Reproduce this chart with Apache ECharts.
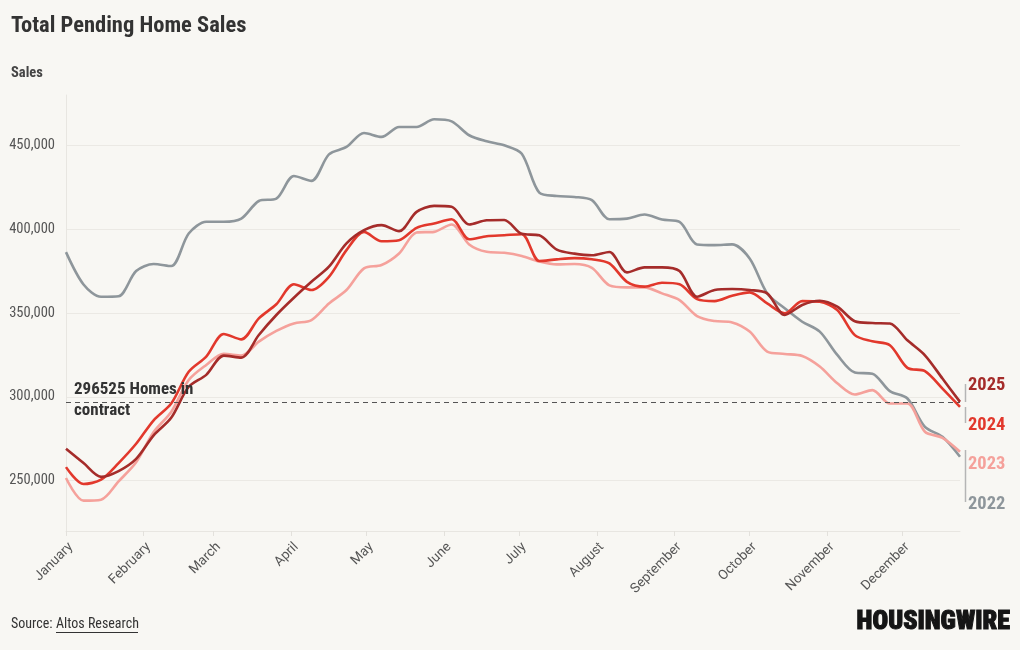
<!DOCTYPE html>
<html>
<head>
<meta charset="utf-8">
<script src="https://cdn.jsdelivr.net/npm/echarts@6/dist/echarts.min.js"></script>
<style>
html,body{margin:0;padding:0;background:#f8f7f3;}
#chart{width:1020px;height:650px;}
</style>
</head>
<body>
<div id="chart"></div>
<script>
// ---- data ----
const months = ['January','February','March','April','May','June','July','August','September','October','November','December'];
const monthStartDays = [0,31,59,90,120,151,181,212,243,273,304,334];
const yTicks = [250000,300000,350000,400000,450000];
const daysPerWeek = 7;
const homesInContract = 296525;
const seriesNames = ['2022','2023','2024','2025'];

const sales2022 = [386300,367000,359700,360000,375000,379200,378000,397400,404400,404400,406300,416800,418200,431700,428800,444600,449000,457300,455000,460900,460900,465500,464300,456000,452400,450000,445000,421800,419800,419200,417300,405900,406300,408700,405700,404400,390900,390500,390900,382500,361700,352800,344800,338900,325000,314500,313800,303400,299000,282100,276200,264300];
const sales2023 = [251600,238100,238700,249600,261000,279000,291000,310000,319000,325600,324600,332900,339300,343800,345800,355700,363700,376600,378600,385500,398000,398400,402800,390900,386500,385900,384000,380700,379000,379200,376900,366500,365300,365300,361700,357700,348200,345200,344400,338900,327000,325600,324400,318100,308100,301400,304000,296000,296000,279200,275600,267300];
const sales2024 = [258100,248000,250600,260500,272000,286000,296000,315000,324000,337500,334300,346800,355200,367100,363700,371600,387500,398400,392800,393400,400800,403400,405900,394000,395800,396400,397000,381000,382000,382700,382000,379600,368600,365700,368000,367100,358300,357100,360300,362300,355700,349800,357100,356700,351800,336800,333100,330800,317300,315300,304900,294000];
const sales2025 = [269000,260500,252300,255700,263000,277000,287500,306000,313100,324600,323400,336900,348800,359100,368600,377600,391500,399400,402400,398800,410300,413900,413300,402800,405300,405500,397200,396300,387800,385400,384400,386400,374200,377200,377200,375000,359700,363700,364300,363700,361700,348800,354800,357300,353800,345100,344000,343700,333700,324800,310900,297000];

// ---- styles ----
const COND = '"Roboto Condensed","Liberation Sans Narrow","DejaVu Sans Condensed",Roboto,sans-serif';
const colors = {'2022':'#8e969b','2023':'#f5a19b','2024':'#e2382c','2025':'#a52c2a'};
const allSales = {'2022':sales2022,'2023':sales2023,'2024':sales2024,'2025':sales2025};

function toPoints(arr){ return arr.map((v,i)=>[i*daysPerWeek, v]); }
const lastDay = (sales2025.length-1)*daysPerWeek;

const series = seriesNames.map((name, idx) => {
  const s = {
    name: name,
    type: 'line',
    data: toPoints(allSales[name]),
    showSymbol: false,
    smooth: 0.3,
    lineStyle: {color: colors[name], width: 2.6},
    itemStyle: {color: colors[name]},
    z: 2 + idx,
    silent: true
  };
  if (idx === 0) {
    s.markLine = {
      silent: true,
      symbol: ['none','none'],
      label: {show:false},
      lineStyle: {type:[5,4], color:'#555', width:1},
      data: [{yAxis: homesInContract}]
    };
  }
  return s;
});

const chart = echarts.init(document.getElementById('chart'), null, {renderer:'canvas'});
chart.setOption({
  backgroundColor: '#f8f7f3',
  animation: false,
  title: [
    {text:'Total Pending Home Sales', left: 11, top: 15, padding: 0,
     textStyle:{fontSize:22.5, fontWeight:'bold', color:'#333', fontFamily: COND}},
    {text:'Sales', left: 11, top: 66, padding: 0,
     textStyle:{fontSize:14.5, fontWeight:'bold', color:'#444', fontFamily: COND}}
  ],
  grid: {left: 66, right: 60, top: 95, bottom: 119, containLabel: false},
  xAxis: {
    type: 'value',
    min: 0,
    max: lastDay,
    axisLine: {show: true, lineStyle: {color:'#e8e6e1', width:1}},
    axisTick: {show: true, length: 5, lineStyle:{color:'#e3e1dc'}, customValues: monthStartDays},
    splitLine: {show: false},
    axisLabel: {
      customValues: monthStartDays,
      rotate: 45,
      margin: 9,
      fontSize: 13.5,
      color: '#555',
      verticalAlign: 'top',
      fontFamily: 'Roboto, sans-serif',
      formatter: function(v){ const k = monthStartDays.indexOf(v); return k >= 0 ? months[k] : ''; }
    }
  },
  yAxis: {
    type: 'value',
    min: 220000,
    max: 480000,
    axisLine: {show: true, lineStyle: {color:'#e8e6e1', width:1}},
    axisTick: {show: false, customValues: yTicks},
    splitLine: {show: true, lineStyle: {color:'#ebe9e4', width:1}},
    axisLabel: {
      customValues: yTicks,
      margin: 11,
      fontSize: 14.5,
      color: '#555',
      fontFamily: COND,
      formatter: function(v){ return v.toLocaleString('en-US'); }
    }
  },
  series: series,
  graphic: [
    {type:'text', left: 74, top: 379, z: 10, silent: true,
     style:{text: homesInContract + ' Homes in\ncontract', fill:'#333', font: 'bold 17px ' + COND, lineHeight: 21}},
    // right-side year labels
    {type:'line', silent:true, shape:{x1:965.5,y1:384,x2:965.5,y2:402}, style:{stroke:'#b5b5b5', lineWidth:1.5}},
    {type:'line', silent:true, shape:{x1:965.5,y1:407,x2:965.5,y2:423}, style:{stroke:'#b5b5b5', lineWidth:1.5}},
    {type:'line', silent:true, shape:{x1:965.5,y1:450,x2:965.5,y2:502}, style:{stroke:'#b5b5b5', lineWidth:1.5}},
    {type:'text', silent:true, x: 968, y: 385, style:{text:'2025', fill: colors['2025'], font:'bold 18.5px ' + COND, textVerticalAlign:'middle'}},
    {type:'text', silent:true, x: 968, y: 425, style:{text:'2024', fill: colors['2024'], font:'bold 18.5px ' + COND, textVerticalAlign:'middle'}},
    {type:'text', silent:true, x: 968, y: 464, style:{text:'2023', fill: colors['2023'], font:'bold 18.5px ' + COND, textVerticalAlign:'middle'}},
    {type:'text', silent:true, x: 968, y: 504, style:{text:'2022', fill: colors['2022'], font:'bold 18.5px ' + COND, textVerticalAlign:'middle'}},
    // footer
    {type:'text', silent:true, x: 11, y: 624, style:{text:'Source: ', fill:'#333', font:'14px ' + COND, textVerticalAlign:'middle'}},
    {type:'text', silent:true, x: 56, y: 624, style:{text:'Altos Research', fill:'#333', font:'14px ' + COND, textVerticalAlign:'middle'}},
    {type:'line', silent:true, shape:{x1:56,y1:632.5,x2:138,y2:632.5}, style:{stroke:'#333', lineWidth:1}},
    {type:'text', silent:true, x: 1010, y: 622, style:{text:'HOUSINGWIRE', fill:'#151515', stroke:'#151515', lineWidth:1, font:'900 26px ' + COND, textAlign:'right', textVerticalAlign:'middle'}}
  ]
});
</script>
</body>
</html>
